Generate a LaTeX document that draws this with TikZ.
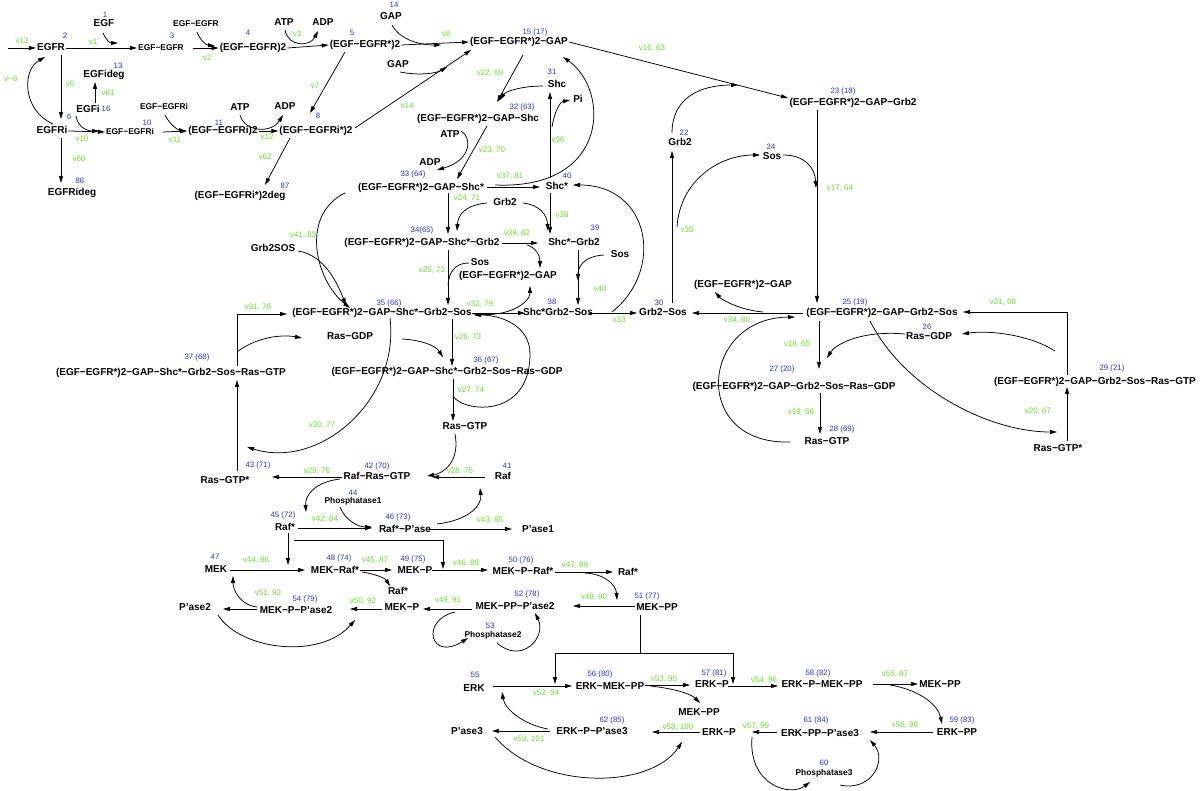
\documentclass[tikz,border=0pt]{standalone}
\usepackage{fontspec}
\setmainfont{Liberation Sans}
\usetikzlibrary{arrows.meta}
\definecolor{numblue}{RGB}{40,50,225}
\definecolor{rategreen}{RGB}{100,225,40}
\tikzset{
  sp/.style={font=\fontsize{10}{11}\selectfont\bfseries, inner sep=1pt, text height=7.5pt, text depth=1.5pt},
  sps/.style={font=\fontsize{8.4}{10}\selectfont\bfseries, inner sep=1pt, text height=6.3pt, text depth=1.3pt},
  num/.style={font=\fontsize{7.8}{9}\selectfont, text=numblue, inner sep=0pt},
  rt/.style={font=\fontsize{8}{9}\selectfont, text=rategreen, inner sep=0pt},
  ar/.style={-{Triangle[length=7pt,width=4pt]}, line width=0.75pt},
  ln/.style={line width=0.75pt}
}
\begin{document}
\begin{tikzpicture}[x=1pt,y=-1pt]
\fill[white] (0,0) rectangle (1200,791);
\useasboundingbox (0,0) rectangle (1200,791);
% ---------------- species ----------------
\node[sp] (egfr) at (51,48) {EGFR};
\node[sp] (egf) at (104,24) {EGF};
\node[sps] (n3) at (161,48) {EGF−EGFR};
\node[sps] (n3t) at (196,24) {EGF−EGFR};
\node[sp] (d4) at (253,48) {(EGF−EGFR)2};
\node[sp] (atp1) at (284,23) {ATP};
\node[sp] (adp1) at (323,23) {ADP};
\node[sp] (d5) at (365,45) {(EGF−EGFR*)2};
\node[sp] (gap1) at (391,17) {GAP};
\node[sp] (gap2) at (398,65) {GAP};
\node[sp] (d15) at (519,42) {(EGF−EGFR*)2−GAP};
\node[sp] (egfideg) at (104,75) {EGFideg};
\node[sp] (egfi) at (88,110) {EGFi};
\node[sp] (egfri) at (52,131) {EGFRi};
\node[sps] (n10) at (130,132) {EGF−EGFRi};
\node[sps] (n10t) at (164,107) {EGF−EGFRi};
\node[sp] (d11) at (223,131) {(EGF−EGFRi)2};
\node[sp] (atp2) at (240,108) {ATP};
\node[sp] (adp2) at (285,107) {ADP};
\node[sp] (d8) at (316,131) {(EGF−EGFRi*)2};
\node[sp] (egfrideg) at (72,193) {EGFRideg};
\node[sp] (d87) at (240,196) {(EGF−EGFRi*)2deg};
\node[sp] (grb2sos) at (273,249) {Grb2SOS};
\node[sp] (shc) at (557,85) {Shc};
\node[sp] (pi) at (578,100) {Pi};
\node[sp] (d32) at (478,119) {(EGF−EGFR*)2−GAP−Shc};
\node[sp] (atp3) at (450,135) {ATP};
\node[sp] (adp3) at (430,163) {ADP};
\node[sp] (d33) at (421,188) {(EGF−EGFR*)2−GAP−Shc*};
\node[sp] (shcs) at (557,187) {Shc*};
\node[sp] (grb2a) at (505,203) {Grb2};
\node[sp] (d34) at (422,243) {(EGF−EGFR*)2−GAP−Shc*−Grb2};
\node[sp] (d39) at (574,243) {Shc*−Grb2};
\node[sp] (sos1) at (480,263) {Sos};
\node[sp] (gapb) at (508,276) {(EGF−EGFR*)2−GAP};
\node[sp] (sos2) at (620,255) {Sos};
\node[sp] (d35) at (382,313) {(EGF−EGFR*)2−GAP−Shc*−Grb2−Sos};
\node[sp] (d38) at (558,313) {Shc*Grb2−Sos};
\node[sp] (rasgdp1) at (350,337) {Ras−GDP};
\node[sp] (d37) at (171,373) {(EGF−EGFR*)2−GAP−Shc*−Grb2−Sos−Ras−GTP};
\node[sp] (d36) at (447,372) {(EGF−EGFR*)2−GAP−Shc*−Grb2−Sos−Ras−GDP};
\node[sp] (rasgtp1) at (465,427) {Ras−GTP};
\node[sp] (d42) at (377,477) {Raf−Ras−GTP};
\node[sp] (raf) at (503,477) {Raf};
\node[sp] (d43) at (225,481) {Ras−GTP*};
\node[sps] (ph1) at (353,501) {Phosphatase1};
\node[sp] (raf45) at (285,527) {Raf*};
\node[sp] (d46) at (405,529) {Raf*−P’ase};
\node[sp] (pase1) at (538,529) {P’ase1};
\node[sp] (mek) at (216,569) {MEK};
\node[sp] (d48) at (335,570) {MEK−Raf*};
\node[sp] (rafb) at (398,591) {Raf*};
\node[sp] (d49) at (415,570) {MEK−P};
\node[sp] (d50) at (523,571) {MEK−P−Raf*};
\node[sp] (rafc) at (628,572) {Raf*};
\node[sp] (d51) at (657,607) {MEK−PP};
\node[sp] (d52) at (515,606) {MEK−PP−P’ase2};
\node[sp] (mekpb) at (402,607) {MEK−P};
\node[sp] (d54) at (296,610) {MEK−P−P’ase2};
\node[sp] (pase2) at (195,607) {P’ase2};
\node[sps] (ph2) at (493,635) {Phosphatase2};
\node[sp] (erk) at (474,688) {ERK};
\node[sp] (d56) at (610,686) {ERK−MEK−PP};
\node[sp] (mekppb) at (699,712) {MEK−PP};
\node[sp] (d57) at (712,684) {ERK−P};
\node[sp] (d58) at (822,684) {ERK−P−MEK−PP};
\node[sp] (mekppc) at (940,684) {MEK−PP};
\node[sp] (d59) at (957,732) {ERK−PP};
\node[sp] (d61) at (820,733) {ERK−PP−P’ase3};
\node[sp] (erkpb) at (719,732) {ERK−P};
\node[sp] (d62) at (592,731) {ERK−P−P’ase3};
\node[sp] (pase3) at (467,731) {P’ase3};
\node[sps] (ph3) at (824,773) {Phosphatase3};
\node[sp] (grb2b) at (680,143) {Grb2};
\node[sp] (d23) at (853,103) {(EGF−EGFR*)2−GAP−Grb2};
\node[sp] (sos3) at (772,157) {Sos};
\node[sp] (d30) at (663,313) {Grb2−Sos};
\node[sp] (gapc) at (743,285) {(EGF−EGFR*)2−GAP};
\node[sp] (d25) at (882,313) {(EGF−EGFR*)2−GAP−Grb2−Sos};
\node[sp] (rasgdp2) at (929,337) {Ras−GDP};
\node[sp] (d27) at (794,387) {(EGF−EGFR*)2−GAP−Grb2−Sos−Ras−GDP};
\node[sp] (d28) at (827,442) {Ras−GTP};
\node[sp] (d29) at (1095,382) {(EGF−EGFR*)2−GAP−Grb2−Sos−Ras−GTP};
\node[sp] (rasgtps) at (1058,449) {Ras−GTP*};
% ---------------- numbers ----------------
\foreach \p/\t in {(105,15)/1,(65,36)/2,(172,36)/3,(248,33)/4,(352,33)/5,(394,5)/14,(535,32)/15 (17),
  (118,66)/13,(106,109)/16,(69,117)/6,(147,123)/10,(219,123)/11,(318,116)/8,(80,181)/86,(285,186)/87,
  (552,72)/31,(522,107)/32 (63),(413,174)/33 (64),(567,176)/40,(422,230)/34(65),(595,228)/39,
  (389,303)/35 (66),(552,302)/38,(486,360)/36 (67),(197,357)/37 (68),(377,466)/42 (70),(507,466)/41,
  (258,465)/43 (71),(353,493)/44,(283,515)/45 (72),(398,517)/46 (73),(215,557)/47,(339,558)/48 (74),
  (413,559)/49 (75),(521,560)/50 (76),(647,596)/51 (77),(527,594)/52 (78),(305,599)/54 (79),(490,626)/53,
  (475,675)/55,(600,674)/56 (80),(714,673)/57 (81),(818,673)/58 (82),(962,720)/59 (83),(816,720)/61 (84),
  (612,720)/62 (85),(824,763)/60,(684,133)/22,(843,91)/23 (18),(771,147)/24,(659,303)/30,(855,302)/25 (19),
  (927,327)/26,(782,369)/27 (20),(842,429)/28 (69),(1112,368)/29 (21)}
  \node[num] at \p {\t};
% ---------------- rate labels ----------------
\foreach \p/\t in {(22,41)/v13,(93,42)/v1,(207,58)/v2,(297,34)/v3,(446,34)/v8,(11,79)/v−6,(70,84)/v6,
  (108,93)/v61,(82,139)/v10,(175,140)/v11,(267,137)/v12,(79,159)/v60,(265,157)/v62,(315,86)/v7,(407,106)/v14,
  (490,73)/{v22, 69},(558,140)/v36,(492,150)/{v23, 70},(510,176)/{v37, 81},(467,198)/{v24, 71},(562,215)/v38,
  (517,233)/{v39, 82},(303,235)/{v41, 83},(432,270)/{v25, 72},(600,289)/v40,(480,304)/{v32, 79},
  (468,337)/{v26, 73},(258,307)/{v31, 78},(471,390)/{v27, 74},(322,425)/{v30, 77},(317,471)/{v29, 76},
  (460,471)/{v28, 75},(325,519)/{v42, 84},(490,520)/{v43, 85},(256,560)/{v44, 86},(375,560)/{v45, 87},
  (466,563)/{v46, 88},(575,565)/{v47, 89},(594,597)/{v48, 90},(448,600)/{v49, 91},(363,601)/{v50, 92},
  (268,593)/{v51, 93},(546,693)/{v52, 94},(664,679)/{v53, 95},(764,680)/{v54, 96},(895,674)/{v55, 97},
  (905,725)/{v56, 98},(756,726)/{v57, 99},(678,727)/{v58, 100},(529,739)/{v59, 101},(652,48)/{v16, 63},
  (840,188)/{v17, 64},(687,230)/v35,(619,320)/v33,(737,320)/{v34, 80},(797,344)/{v18, 65},(801,412)/{v19, 66},
  (1038,411)/{v20, 67},(1003,302)/{v21, 68}}
  \node[rt] at \p {\t};
% ---------------- connectors: receptor part ----------------
\coordinate (in13) at (8,48);
\draw[ar] (in13) -- (egfr.west);
\draw[ar] (egfr.east) -- (n3.west);
\draw[ar] (103,33) .. controls (106,40) and (110,43) .. (118,43);
\draw[ar] (193,48) -- (d4.west);
\draw[ar] (197,32) .. controls (200,40) and (206,45) .. (215,46);
\draw[ar] (d4.east) -- (d5.west);
\draw[ar] (285,30) .. controls (288,47) and (310,47) .. (318,31);
\draw[ar] (d5.east) -- (d15.west);
\draw[ar] (392,25) .. controls (400,40) and (420,45) .. (441,45);
\draw[ar] (400,72) .. controls (420,76) and (437,73) .. (447,67);
\draw[ar] (355,128) -- (471,50);
\draw[ar] (345,52) -- (310,113);
\draw[ar] (61,55) -- (61,119);
\draw[ar] (53,124) .. controls (22,110) and (22,70) .. (45,57);
\draw[ar] (95,103) -- (95,82);
\draw[ar] (egfri.east) -- (n10.west);
\draw[ar] (76,116) .. controls (78,128) and (88,131) .. (99,131);
\draw[ar] (163,132) -- (d11.west);
\draw[ar] (165,115) .. controls (170,125) and (178,130) .. (186,131);
\draw[ar] (d11.east) -- (d8.west);
\draw[ar] (240,115) .. controls (245,133) and (272,133) .. (283,115);
\draw[ar] (61,138) -- (61,183);
\draw[ar] (290,138) -- (265,185);
% ---------------- Shc branch ----------------
\draw[ar] (d15.east) -- (788,98);
\draw[ar] (672,133) .. controls (672,98) and (700,85) .. (738,85);
\draw[ar] (523,55) -- (497,102);
\draw[ar] (543,86) .. controls (520,86) and (505,92) .. (500,100);
\draw[ar] (487,126) -- (457,179);
\draw[ar] (461,131) .. controls (472,137) and (472,160) .. (437,170);
\draw[ar] (487,187) -- (540,187);
\draw[ar] (495,185) .. controls (610,190) and (610,90) .. (563,57);
\draw[ar] (550,178) -- (550,92);
\draw[ar] (552,127) .. controls (555,110) and (560,102) .. (570,100);
\draw[ar] (612,312) .. controls (665,270) and (650,185) .. (573,185);
\draw[ar] (448,193) -- (448,234);
\draw[ar] (487,203) .. controls (465,205) and (458,215) .. (457,231);
\draw[ar] (523,203) .. controls (540,205) and (547,215) .. (548,231);
\draw[ar] (550,193) -- (550,234);
\draw[ar] (502,243) -- (538,243);
\draw[ar] (527,245) .. controls (535,247) and (540,255) .. (540,268);
\draw[ar] (448,250) -- (448,305);
\draw[ln] (469,263) .. controls (455,263) and (449,272) .. (448,285);
\draw[ar] (578,250) -- (578,305);
\draw[ar] (604,255) .. controls (586,256) and (578,265) .. (578,281);
\draw[ar] (345,193) .. controls (300,215) and (315,280) .. (350,308);
\draw[ar] (298,251) .. controls (325,255) and (338,285) .. (346,305);
\draw[ar] (472,313) -- (525,313);
\draw[ar] (474,314) .. controls (510,318) and (530,302) .. (530,286);
\draw[ar] (589,313) -- (637,313);
\draw[ar] (453,396) .. controls (462,412) and (530,420) .. (530,354) .. controls (530,325) and (500,315) .. (474,315);
\draw[ar] (452,319) -- (452,366);
\draw[ar] (402,339) .. controls (420,340) and (435,345) .. (443,357);
\draw[ar] (453,379) -- (453,421);
\draw[ar] (455,434) .. controls (460,460) and (445,473) .. (427,476);
\draw[ar] (390,318) .. controls (400,400) and (320,470) .. (247,447);
\draw[ar] (485,477) -- (432,477);
\draw[ar] (342,477) -- (272,477);
\draw[ar] (237,471) -- (237,380);
\draw[ar] (237,366) -- (237,314) -- (287,314);
\draw[ar] (237,352) .. controls (255,338) and (280,334) .. (302,338);
% ---------------- Raf / MEK ----------------
\draw[ar] (340,479) .. controls (315,482) and (305,495) .. (306,512);
\draw[ar] (340,507) .. controls (345,520) and (358,527) .. (372,527);
\draw[ar] (298,528) -- (372,528);
\draw[ar] (428,529) -- (512,529);
\draw[ar] (437,524) .. controls (470,520) and (482,505) .. (480,488);
\draw[ar] (288,533) -- (288,565);
\draw[ar] (294,540) -- (443,540) -- (443,569);
\draw[ar] (230,570) -- (305,570);
\draw[ar] (360,570) -- (392,570);
\draw[ar] (362,572) .. controls (375,574) and (385,578) .. (390,586);
\draw[ar] (432,570) -- (488,570);
\draw[ar] (555,572) -- (613,572);
\draw[ar] (585,573) .. controls (605,574) and (616,585) .. (617,600);
\draw[ar] (635,606) -- (573,606);
\draw[ar] (472,609) -- (423,609);
\draw[ar] (382,609) -- (350,609);
\draw[ar] (257,607) .. controls (240,605) and (233,590) .. (233,576);
\draw[ar] (257,609) -- (223,609);
\draw[ar] (218,615) .. controls (240,650) and (320,660) .. (355,620);
\draw[ar] (455,612) .. controls (420,620) and (430,662) .. (468,638);
\draw[ar] (497,643) .. controls (522,665) and (547,637) .. (535,613);
% ---------------- ERK ----------------
\draw[ln] (640,615) -- (640,653);
\draw[ar] (640,653) -- (555,653) -- (555,684);
\draw[ar] (640,653) -- (733,653) -- (733,684);
\draw[ar] (493,686) -- (572,686);
\draw[ar] (645,685) -- (690,685);
\draw[ar] (650,686) .. controls (670,688) and (690,693) .. (700,703);
\draw[ar] (728,686) -- (778,686);
\draw[ar] (873,684) -- (918,684);
\draw[ar] (890,685) .. controls (920,690) and (938,705) .. (942,724);
\draw[ar] (933,732) -- (870,732);
\draw[ar] (777,732) -- (752,732);
\draw[ar] (700,732) -- (652,732);
\draw[ar] (550,731) -- (492,731);
\draw[ar] (548,729) .. controls (525,725) and (505,710) .. (502,692);
\draw[ar] (495,737) .. controls (540,790) and (650,790) .. (682,742);
\draw[ar] (752,737) .. controls (748,785) and (790,797) .. (810,782);
\draw[ar] (840,785) .. controls (872,792) and (887,760) .. (870,740);
% ---------------- Grb2-Sos right branch ----------------
\draw[ar] (817,110) -- (817,303);
\draw[ar] (783,155) .. controls (805,155) and (815,168) .. (816,188);
\draw[ar] (677,227) .. controls (680,180) and (720,155) .. (760,155);
\draw[ar] (672,303) -- (672,151);
\draw[ar] (803,313) -- (692,313);
\draw[ar] (763,312) .. controls (740,310) and (722,300) .. (715,292);
\draw[ar] (790,442) .. controls (690,445) and (700,318) .. (795,317);
\draw[ar] (819,321) -- (819,369);
\draw[ar] (905,334) .. controls (860,330) and (835,345) .. (827,358);
\draw[ar] (870,321) .. controls (905,390) and (990,432) .. (1057,432);
\draw[ar] (1055,351) .. controls (1030,335) and (990,330) .. (962,334);
\draw[ar] (1067,375) -- (1067,312) -- (963,312);
\draw[ar] (1067,441) -- (1067,387);
\draw[ar] (820,393) -- (820,434);
\end{tikzpicture}
\end{document}
